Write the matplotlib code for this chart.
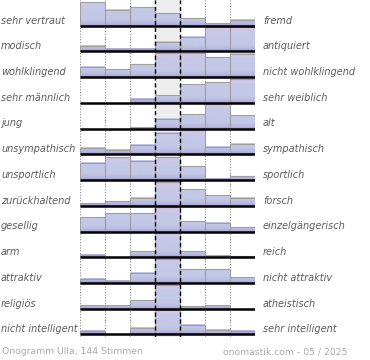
import numpy as np
import matplotlib
matplotlib.use("Agg")
import matplotlib.pyplot as plt
from matplotlib.colors import LinearSegmentedColormap
from matplotlib.transforms import blended_transform_factory

# pairs of opposite attributes (left / right) and the vote distribution over 7 steps,
# scaled so that 100 = full row height
left_labels = ["sehr vertraut", "modisch", "wohlklingend", "sehr männlich", "jung",
               "unsympathisch", "unsportlich", "zurückhaltend", "gesellig", "arm",
               "attraktiv", "religiös", "nicht intelligent"]
right_labels = ["fremd", "antiquiert", "nicht wohlklingend", "sehr weiblich", "alt",
                "sympathisch", "sportlich", "forsch", "einzelgängerisch", "reich",
                "nicht attraktiv", "atheistisch", "sehr intelligent"]
votes = [
    [93, 63, 72, 49, 30, 9, 24],
    [23, 9, 9, 36, 58, 96, 96],
    [41, 31, 50, 93, 93, 77, 90],
    [0, 0, 17, 31, 73, 81, 94],
    [0, 0, 7, 39, 57, 94, 53],
    [24, 17, 36, 84, 93, 28, 41],
    [67, 89, 76, 89, 53, 5, 15],
    [10, 17, 32, 93, 64, 42, 32],
    [57, 73, 73, 96, 41, 35, 18],
    [9, 0, 23, 94, 23, 5, 3],
    [17, 8, 39, 94, 54, 54, 23],
    [14, 14, 34, 94, 9, 14, 0],
    [12, 0, 24, 94, 36, 19, 15],
]
footer_left = "Onogramm Ulla, 144 Stimmen"
footer_right = "onomastik.com - 05 / 2025"

n_rows = len(votes)
n_cols = 7

fig = plt.figure(figsize=(3.7, 3.6), dpi=100)
ax = fig.add_axes([80 / 370, 1 - 337 / 360, 175 / 370, 337 / 360])
ax.set_axis_off()

bar_cmap = LinearSegmentedColormap.from_list(
    "bars",
    [(0.0, "#9c90c6"), (0.07, "#b6b6de"), (0.25, "#c2c8e6"),
     (0.7, "#c6c8e8"), (1.0, "#dcc6e6")],
)

# middle column background + grid
ax.axvspan(3, 4, color="#eeeeee", zorder=0)
for c in range(n_cols + 1):
    if c in (3, 4):
        ax.axvline(c, color="black", lw=1, ls=(0, (3, 2)), zorder=4)
    else:
        ax.axvline(c, color="#888888", lw=0.8, ls=(0, (1, 1.5)), zorder=1)

# bars with vertical gradient
for i, row in enumerate(votes):
    base = i + 1
    for c, v in enumerate(row):
        h = v / 100
        if h <= 0:
            continue
        grad = np.linspace(0, h, 60).reshape(-1, 1)
        ax.imshow(grad, cmap=bar_cmap, vmin=0, vmax=1, origin="lower",
                  extent=(c, c + 1, base, base - h), aspect="auto",
                  interpolation="bilinear", zorder=2)
    hs = [v / 100 for v in row]
    ax.bar(np.arange(n_cols) + 0.5, [-h for h in hs], bottom=base, width=1,
           fill=False, edgecolor="#a0a0a0", lw=0.8, zorder=3)
    ax.hlines(base, 0, n_cols, color="black", lw=1.8, zorder=5)

ax.set_xlim(0, n_cols)
ax.set_ylim(n_rows + 0.1, 0)

# labels
trans = blended_transform_factory(fig.transFigure, ax.transData)
for i in range(n_rows):
    y = i + 1 - 0.2
    ax.text(1 / 370, y, left_labels[i], transform=trans, ha="left", va="center",
            style="italic", fontsize=7.0, color="#5c5c5c", clip_on=False)
    ax.text(263 / 370, y, right_labels[i], transform=trans, ha="left", va="center",
            style="italic", fontsize=7.0, color="#5c5c5c", clip_on=False)

fig.text(2 / 370, 1 - 352 / 360, footer_left, ha="left", va="center",
         fontsize=6.7, color="#aaaaaa")
fig.text(347 / 370, 1 - 352 / 360, footer_right, ha="right", va="center",
         fontsize=6.7, color="#aaaaaa")

fig.savefig("out.png", dpi=100)
